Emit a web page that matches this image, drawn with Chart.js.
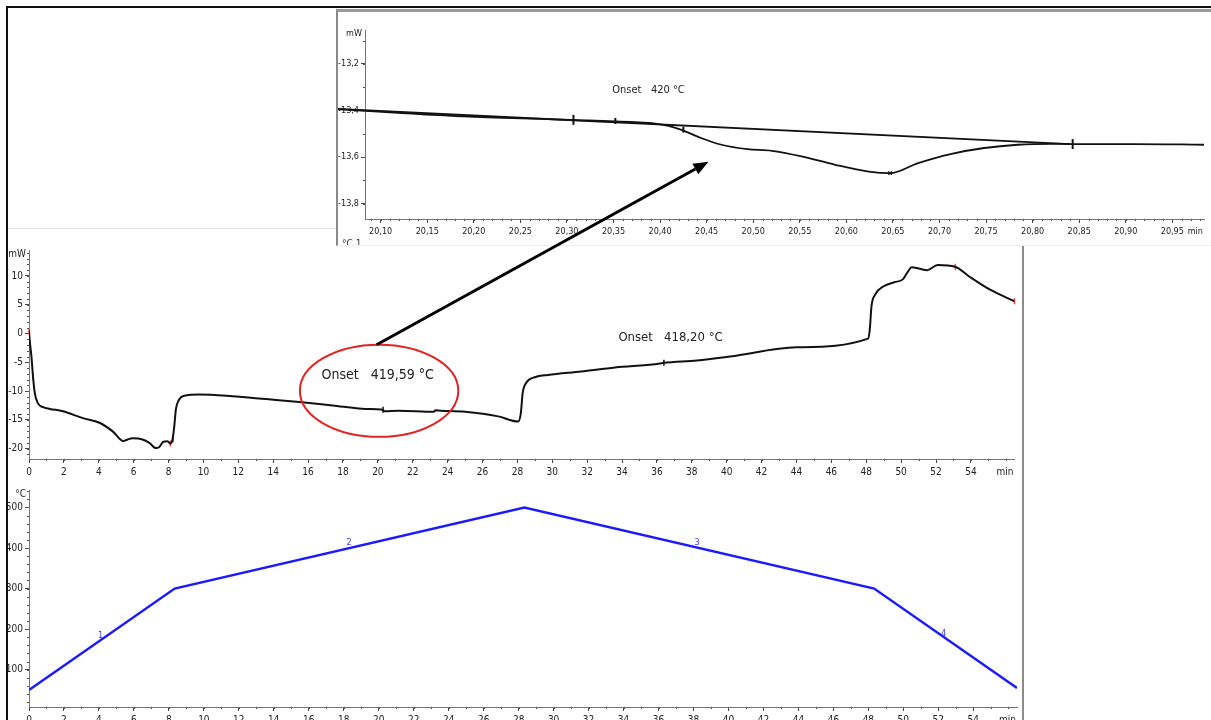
<!DOCTYPE html>
<html>
<head>
<meta charset="utf-8">
<script src="https://cdn.jsdelivr.net/npm/chart.js@4/dist/chart.umd.min.js"></script>
<style>
  body { margin: 0; width: 1211px; height: 720px; overflow: hidden; background: #fff; position: relative; }
  .abs { position: absolute; }
  #frameTop { left: 6px; top: 6px; width: 1205px; height: 2px; background: #111; }
  #frameLeft { left: 6px; top: 6px; width: 2px; height: 714px; background: #111; }
  #panelTop { left: 8px; top: 228px; width: 330px; height: 1px; background: #e4e4e4; }
  #panelRight { left: 1022px; top: 245px; width: 2px; height: 475px; background: #8c8c8c; }
  #inset { left: 336px; top: 9px; width: 873px; height: 233px; background: #fff;
           border-left: 2px solid #8a8a8a; border-top: 3px solid #9a9a9a; border-bottom: 1px solid #eee;
           overflow: hidden; z-index: 2; }
  #mainCanvas { left: 8px; top: 229px; z-index: 1; }
  #tempCanvas { left: 8px; top: 482px; z-index: 1; }
  #overlay { left: 0; top: 0; z-index: 5; pointer-events: none; }
  #cut { left: 4px; top: 226px; font: 10px 'DejaVu Sans Condensed', 'Liberation Sans', sans-serif; color: #333; }
</style>
</head>
<body>
<div id="frameTop" class="abs"></div>
<div id="frameLeft" class="abs"></div>
<div id="panelTop" class="abs"></div>
<div id="panelRight" class="abs"></div>
<canvas id="mainCanvas" class="abs" width="1012" height="252"></canvas>
<canvas id="tempCanvas" class="abs" width="1012" height="250"></canvas>
<div id="inset" class="abs">
  <canvas id="insetCanvas" width="873" height="233"></canvas>
  <span id="cut" class="abs">°C 1</span>
</div>
<canvas id="overlay" class="abs" width="1211" height="720"></canvas>
<script>
const FONT = "'DejaVu Sans Condensed', 'Liberation Sans', sans-serif";

// DSC heat flow, full run (min, mW)
const mainTime = [0, 0.05, 0.14, 0.23, 0.33, 0.51, 0.8, 1.2, 1.94, 3.09, 4.04, 4.8, 5.41, 5.66, 5.94, 6.51, 6.9, 7.28, 7.47, 7.7, 7.94, 8.1, 8.23, 8.33, 8.42, 8.6, 8.9, 9.75, 11.66, 13.6, 15.5, 17.4, 19.3, 20.2, 20.4, 21.2, 23.2, 23.3, 23.6, 25, 26.9, 28.04, 28.2, 28.3, 28.5, 29, 29.75, 31.66, 33.6, 36, 36.4, 38.3, 40.2, 44, 48.1, 48.2, 48.3, 48.5, 49, 49.6, 50.1, 50.4, 50.6, 51, 51.5, 52.1, 53.1, 53.9, 55.1, 56.5];
const mainHeatFlow = [0.5, -1.5, -4, -7.5, -10.3, -12.1, -12.8, -13.1, -13.5, -14.7, -15.5, -17, -18.7, -18.4, -18.2, -18.4, -19, -19.9, -19.7, -18.8, -18.7, -19.1, -18.4, -16.1, -13.2, -11.5, -10.8, -10.6, -10.9, -11.4, -11.9, -12.5, -13.1, -13.2, -13.5, -13.4, -13.6, -13.35, -13.4, -13.6, -14.4, -15.3, -13.8, -10.4, -8.6, -7.6, -7.2, -6.6, -5.9, -5.3, -5.1, -4.7, -4.0, -2.4, -0.9, 0.6, 4.7, 6.7, 8.2, 8.9, 9.4, 10.8, 11.5, 11.3, 11, 11.9, 11.6, 9.9, 7.6, 5.6];
const mainRedMarkTime = [0, 0.23, 8.1, 8.27, 53.1, 56.5];
const mainRedMarkValue = [0.3, -7.5, -19.1, -18.4, 11.6, 5.6];
const mainBlackMarkTime = [20.3, 36.4];
const mainBlackMarkValue = [-13.25, -5.1];
const mainXTicks = [0, 2, 4, 6, 8, 10, 12, 14, 16, 18, 20, 22, 24, 26, 28, 30, 32, 34, 36, 38, 40, 42, 44, 46, 48, 50, 52, 54];
const mainYTicks = [-20, -15, -10, -5, 0, 5, 10];

// temperature programme (min, °C)
const tempTime = [0, 8.33, 28.33, 48.33, 56.5];
const tempValue = [50, 300, 500, 300, 55];
const tempYTicks = [100, 200, 300, 400, 500];
const segLabels = ['1', '2', '3', '4'];
const segLabelTime = [4.1, 18.3, 38.2, 52.3];
const segLabelTemp = [185, 412, 414, 190];

// zoomed DSC peak (min, mW)
const insetTime = [20.052, 20.123, 20.195, 20.302, 20.373, 20.391, 20.409, 20.423, 20.444, 20.466, 20.494, 20.52, 20.552, 20.588, 20.624, 20.647, 20.677, 20.713, 20.748, 20.784, 20.82, 20.841, 20.909, 20.984];
const insetHeatFlow = [-13.393, -13.411, -13.426, -13.44, -13.45, -13.454, -13.466, -13.483, -13.518, -13.547, -13.566, -13.573, -13.597, -13.633, -13.662, -13.669, -13.626, -13.586, -13.561, -13.547, -13.543, -13.544, -13.544, -13.547];
const baselineTime = [20.052, 20.841];
const baselineValue = [-13.393, -13.544];
const insetMarkTime = [20.307, 20.352, 20.425, 20.843];
const insetMarkValue = [-13.44, -13.445, -13.482, -13.544];
const insetMarkSize = [5, 3, 3, 5];
const insetPeakTime = [20.647];
const insetPeakValue = [-13.669];
const insetXTicks = [20.10, 20.15, 20.20, 20.25, 20.30, 20.35, 20.40, 20.45, 20.50, 20.55, 20.60, 20.65, 20.70, 20.75, 20.80, 20.85, 20.90, 20.95];
const insetYTicks = [-13.8, -13.6, -13.4, -13.2];

const pts = (xs, ys) => xs.map((x, i) => ({ x, y: ys[i] }));

// minor ticks + unit labels drawn on the axes
const axisExtras = {
  id: 'axisExtras',
  afterDraw(chart, args, opts) {
    const ctx = chart.ctx;
    const area = chart.chartArea;
    ctx.save();
    ctx.strokeStyle = '#555';
    ctx.lineWidth = 1;
    for (const [id, step] of Object.entries(opts.steps || {})) {
      const s = chart.scales[id];
      const n0 = Math.ceil(s.min / step - 1e-6), n1 = Math.floor(s.max / step + 1e-6);
      for (let n = n0; n <= n1; n++) {
        const p = Math.round(s.getPixelForValue(n * step)) + 0.5;
        ctx.beginPath();
        if (s.isHorizontal()) { ctx.moveTo(p, s.top); ctx.lineTo(p, s.top + 2); }
        else { ctx.moveTo(s.right, p); ctx.lineTo(s.right - 2, p); }
        ctx.stroke();
      }
    }
    ctx.fillStyle = '#222';
    ctx.font = opts.size + 'px ' + FONT;
    ctx.textAlign = 'right';
    ctx.textBaseline = 'middle';
    if (opts.unitY) ctx.fillText(opts.unitY, area.left - 3, area.top + 4);
    if (opts.unitX) ctx.fillText(opts.unitX, area.right - 1, area.bottom + 4 + opts.pad + opts.size / 2 + 1);
    ctx.restore();
  }
};

function fixAxis(size, isX) {
  return (s) => {
    if (isX) s.height = size; else s.width = size;
    s.paddingLeft = 0; s.paddingRight = 0; s.paddingTop = 0; s.paddingBottom = 0;
  };
}

function axis(cfg) {
  return {
    type: 'linear',
    min: cfg.min, max: cfg.max,
    afterBuildTicks: (s) => { s.ticks = cfg.ticks.map(v => ({ value: v })); },
    afterFit: fixAxis(cfg.size, cfg.isX),
    grid: { drawOnChartArea: false, drawTicks: true, tickLength: 4, tickColor: '#444', tickWidth: 1 },
    border: { display: true, color: '#777', width: 1 },
    ticks: {
      autoSkip: false, maxRotation: 0, padding: cfg.pad,
      color: '#222', font: { family: FONT, size: cfg.font },
      callback: cfg.fmt
    }
  };
}

const commonOpts = {
  responsive: false,
  animation: false,
  events: [],
  plugins: { legend: { display: false }, tooltip: { enabled: false } }
};

const mainChart = new Chart(document.getElementById('mainCanvas'), {
  type: 'line',
  data: {
    datasets: [
      { data: pts(mainTime, mainHeatFlow), borderColor: '#111', borderWidth: 2, pointRadius: 0, cubicInterpolationMode: 'monotone' },
      { data: pts(mainRedMarkTime, mainRedMarkValue), showLine: false, pointStyle: 'line', rotation: 90, pointRadius: 3, borderColor: '#ff4040', borderWidth: 1.5, clip: false },
      { data: pts(mainBlackMarkTime, mainBlackMarkValue), showLine: false, pointStyle: 'line', rotation: 90, pointRadius: 3, borderColor: '#111', borderWidth: 1.5 }
    ]
  },
  options: {
    ...commonOpts,
    layout: { padding: { left: 0, top: 21, right: 3, bottom: 0 } },
    plugins: { ...commonOpts.plugins, axisExtras: { steps: { x: 1, y: 1 }, unitY: 'mW', unitX: 'min', size: 10, pad: 3 } },
    scales: {
      x: axis({ min: 0, max: 56.5, ticks: mainXTicks, size: 22, isX: true, pad: 3, font: 10, fmt: v => String(v) }),
      y: axis({ min: -21.8, max: 14.5, ticks: mainYTicks, size: 21, isX: false, pad: 2, font: 10, fmt: v => String(v) })
    }
  },
  plugins: [axisExtras]
});

const tempChart = new Chart(document.getElementById('tempCanvas'), {
  type: 'line',
  data: {
    datasets: [
      { data: pts(tempTime, tempValue), borderColor: '#1a1aff', borderWidth: 2.5, pointRadius: 0, tension: 0 }
    ]
  },
  options: {
    ...commonOpts,
    layout: { padding: { left: 0, top: 8, right: 3, bottom: 0 } },
    plugins: { ...commonOpts.plugins, axisExtras: { steps: { x: 1, y: 20 }, unitY: '°C', unitX: 'min', size: 10, pad: 3 } },
    scales: {
      x: axis({ min: 0, max: 56.5, ticks: mainXTicks, size: 25, isX: true, pad: 3, font: 10, fmt: v => String(v) }),
      y: axis({ min: 8, max: 543, ticks: tempYTicks, size: 21, isX: false, pad: 2, font: 10, fmt: v => String(v) })
    }
  },
  plugins: [axisExtras]
});

const insetChart = new Chart(document.getElementById('insetCanvas'), {
  type: 'line',
  data: {
    datasets: [
      { data: pts(baselineTime, baselineValue), borderColor: '#111', borderWidth: 1.8, pointRadius: 0, clip: false },
      { data: pts(insetTime, insetHeatFlow), borderColor: '#111', borderWidth: 1.8, pointRadius: 0, cubicInterpolationMode: 'monotone', clip: false },
      { data: pts(insetMarkTime, insetMarkValue), showLine: false, pointStyle: 'line', rotation: 90, pointRadius: insetMarkSize, borderColor: '#111', borderWidth: 2 },
      { data: pts(insetPeakTime, insetPeakValue), showLine: false, pointStyle: 'crossRot', pointRadius: 2.5, borderColor: '#111', borderWidth: 1.2 }
    ]
  },
  options: {
    ...commonOpts,
    layout: { padding: { left: 0, top: 18, right: 4, bottom: 0 } },
    plugins: { ...commonOpts.plugins, axisExtras: { steps: { x: 0.01, y: 0.1 }, unitY: 'mW', unitX: 'min', size: 9, pad: 3 } },
    scales: {
      x: axis({ min: 20.0832, max: 20.984, ticks: insetXTicks, size: 26, isX: true, pad: 3, font: 9, fmt: v => v.toFixed(2).replace('.', ',') }),
      y: axis({ min: -13.866, max: -13.054, ticks: insetYTicks, size: 27, isX: false, pad: 2, font: 9, fmt: v => v.toFixed(1).replace('.', ',') })
    }
  },
  plugins: [axisExtras]
});

// annotations on top of everything, anchored in data coordinates
function absPoint(chart, x, y) {
  const r = chart.canvas.getBoundingClientRect();
  return [r.left + chart.scales.x.getPixelForValue(x), r.top + chart.scales.y.getPixelForValue(y)];
}

const ov = document.getElementById('overlay').getContext('2d');

// red ellipse round the first onset
const [ecx, ecy] = absPoint(mainChart, 20.07, -9.94);
const [erx] = absPoint(mainChart, 20.07 + 4.54, -9.94);
const [, ery] = absPoint(mainChart, 20.07, -9.94 + 8);
ov.save();
ov.strokeStyle = '#e52222';
ov.lineWidth = 2;
ov.beginPath();
ov.ellipse(ecx, ecy, Math.abs(erx - ecx), Math.abs(ecy - ery), 0, 0, Math.PI * 2);
ov.stroke();
ov.restore();

// arrow from the ellipse into the zoomed panel
const [ax1, ay1] = absPoint(mainChart, 19.93, -1.96);
const [ax2, ay2] = absPoint(insetChart, 20.452, -13.62);
const ang = Math.atan2(ay2 - ay1, ax2 - ax1);
const headLen = 15, headW = 6;
ov.save();
ov.strokeStyle = '#000';
ov.fillStyle = '#000';
ov.lineWidth = 3;
ov.beginPath();
ov.moveTo(ax1, ay1);
ov.lineTo(ax2 - headLen * Math.cos(ang), ay2 - headLen * Math.sin(ang));
ov.stroke();
ov.beginPath();
ov.moveTo(ax2, ay2);
ov.lineTo(ax2 - headLen * Math.cos(ang) + headW * Math.sin(ang), ay2 - headLen * Math.sin(ang) - headW * Math.cos(ang));
ov.lineTo(ax2 - headLen * Math.cos(ang) - headW * Math.sin(ang), ay2 - headLen * Math.sin(ang) + headW * Math.cos(ang));
ov.closePath();
ov.fill();
ov.restore();

// onset texts
const notes = [
  { chart: mainChart, x: 16.77, y: -7.9, text: 'Onset   419,59 °C', size: 14 },
  { chart: mainChart, x: 33.79, y: -1.39, text: 'Onset   418,20 °C', size: 13 },
  { chart: insetChart, x: 20.3487, y: -13.325, text: 'Onset   420 °C', size: 11 }
];
ov.save();
ov.fillStyle = '#222';
ov.textAlign = 'left';
ov.textBaseline = 'alphabetic';
notes.forEach(n => {
  const [px, py] = absPoint(n.chart, n.x, n.y);
  ov.font = n.size + 'px ' + FONT;
  ov.fillText(n.text, px, py);
});
ov.restore();

// segment numbers on the temperature programme
ov.save();
ov.fillStyle = '#3a3aff';
ov.font = '9px ' + FONT;
ov.textAlign = 'center';
ov.textBaseline = 'middle';
segLabels.forEach((t, i) => {
  const [px, py] = absPoint(tempChart, segLabelTime[i], segLabelTemp[i]);
  ov.fillText(t, px, py);
});
ov.restore();
</script>
</body>
</html>
